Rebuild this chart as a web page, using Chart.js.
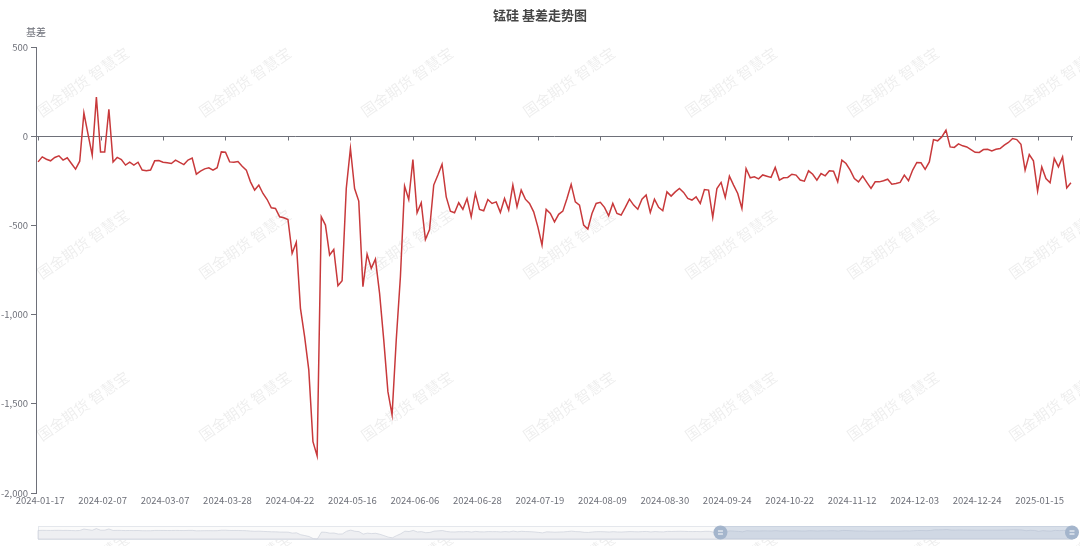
<!DOCTYPE html>
<html>
<head>
<meta charset="utf-8">
<title>锰硅 基差走势图</title>
<script src="https://cdn.jsdelivr.net/npm/chart.js@4/dist/chart.umd.min.js"></script>
<style>
  html, body { margin: 0; padding: 0; background: #fff; }
  #wrap { width: 1080px; height: 546px; }
</style>
</head>
<body>
<div id="wrap"><canvas id="basisChart" width="1080" height="546"></canvas></div>
<script>
// Textos do gráfico
const chartTitle = "锰硅 基差走势图";
const yAxisName = "基差";
const watermarkText = "国金期货 智慧宝";

// Dias de negociação: começa em 2024-01-17, pula fins de semana e feriados da bolsa
const startDate = "2024-01-17";
const closedDays = [
  "2024-02-09", "2024-02-12", "2024-02-13", "2024-02-14", "2024-02-15", "2024-02-16",
  "2024-04-04", "2024-04-05", "2024-05-01", "2024-05-02", "2024-05-03", "2024-06-10",
  "2024-09-16", "2024-09-17", "2024-10-01", "2024-10-02", "2024-10-03", "2024-10-04",
  "2024-10-07", "2025-01-01"
];

// Base (基差)
const basis = [
  -144, -116, -129, -138, -119, -110, -134, -121, -153, -185,
  -140, 130, 10, -106, 220, -88, -88, 151, -144, -119,
  -131, -162, -146, -162, -146, -190, -194, -190, -138, -136,
  -146, -149, -153, -134, -147, -159, -134, -123, -213, -196,
  -183, -177, -190, -177, -88, -90, -144, -146, -142, -168,
  -190, -256, -302, -274, -321, -355, -401, -405, -452, -457,
  -467, -657, -595, -965, -1124, -1310, -1712, -1792, -452, -498,
  -666, -635, -838, -810, -293, -69, -293, -364, -844, -661,
  -741, -689, -881, -1142, -1432, -1562, -1142, -788, -280, -355,
  -131, -429, -373, -579, -523, -274, -218, -157, -340, -420,
  -429, -373, -410, -349, -452, -321, -410, -418, -355, -377,
  -368, -427, -349, -414, -274, -396, -302, -353, -377, -424,
  -508, -610, -410, -433, -480, -438, -420, -349, -270, -368,
  -386, -498, -521, -433, -377, -371, -399, -446, -377, -433,
  -442, -399, -353, -386, -409, -353, -330, -427, -353, -399,
  -418, -312, -336, -312, -293, -315, -349, -358, -340, -377,
  -299, -302, -455, -293, -259, -343, -224, -274, -321, -405,
  -181, -233, -228, -239, -217, -224, -231, -175, -246, -233,
  -231, -213, -218, -246, -252, -194, -213, -246, -209, -222,
  -194, -196, -256, -134, -153, -190, -237, -256, -224, -259,
  -293, -256, -256, -250, -241, -269, -265, -259, -218, -250,
  -190, -147, -149, -186, -144, -19, -26, -4, 34, -60,
  -63, -43, -54, -60, -75, -90, -91, -75, -73, -82,
  -73, -69, -50, -35, -13, -19, -45, -190, -103, -138,
  -308, -172, -237, -261, -125, -172, -116, -290, -261
];

// Rótulos do eixo y e intervalo dos rótulos do eixo x
const yTicks = [500, 0, -500, -1000, -1500, -2000];
const labelEvery = 15;
// Janela do controle de zoom (em %)
const zoomRange = [66, 100];

function tradingDays(start, count, closed) {
  const out = [];
  const d = new Date(start + "T00:00:00Z");
  while (out.length < count) {
    const wd = d.getUTCDay();
    const s = d.toISOString().slice(0, 10);
    if (wd !== 0 && wd !== 6 && !closed.includes(s)) out.push(s);
    d.setUTCDate(d.getUTCDate() + 1);
  }
  return out;
}

const dates = tradingDays(startDate, basis.length, closedDays);

const fontFamily = '"Noto Sans CJK SC", "Noto Sans", sans-serif';
Chart.defaults.font.family = fontFamily;

// Linha do eixo x passando pelo zero, com marcas
const zeroAxis = {
  id: "zeroAxis",
  beforeDatasetsDraw(chart) {
    const { ctx, chartArea, scales } = chart;
    const y0 = Math.round(scales.y.getPixelForValue(0)) + 0.5;
    ctx.save();
    ctx.strokeStyle = "#6e7079";
    ctx.lineWidth = 1;
    ctx.beginPath();
    ctx.moveTo(chartArea.left, y0);
    ctx.lineTo(chartArea.right, y0);
    for (let i = 0; i < dates.length; i++) {
      if (i % labelEvery === 0 || i === dates.length - 1) {
        const px = Math.round(scales.x.getPixelForValue(i)) + 0.5;
        ctx.moveTo(px, y0);
        ctx.lineTo(px, y0 + 4);
      }
    }
    ctx.stroke();
    ctx.restore();
  }
};

// Fundo, marca d'água, título, nome do eixo e controle de zoom
const decorations = {
  id: "decorations",
  beforeDraw(chart) {
    const ctx = chart.ctx;
    ctx.save();
    ctx.fillStyle = "#fff";
    ctx.fillRect(0, 0, chart.width, chart.height);
    ctx.fillStyle = "rgba(0,0,0,0.07)";
    ctx.font = "15px " + fontFamily;
    ctx.textAlign = "center";
    ctx.textBaseline = "middle";
    for (let gx = 83; gx < 1140; gx += 162) {
      for (let gy = 82; gy < 620; gy += 162) {
        ctx.save();
        ctx.translate(gx, gy);
        ctx.rotate(-35 * Math.PI / 180);
        ctx.fillText(watermarkText, 0, 0);
        ctx.restore();
      }
    }
    ctx.restore();
  },
  afterDraw(chart) {
    const { ctx, chartArea } = chart;
    ctx.save();
    ctx.textAlign = "center";
    ctx.textBaseline = "middle";
    ctx.fillStyle = "#464646";
    ctx.font = "bold 13px " + fontFamily;
    ctx.fillText(chartTitle, chart.width / 2, 15);
    ctx.fillStyle = "#6e7079";
    ctx.font = "10px " + fontFamily;
    ctx.fillText(yAxisName, chartArea.left, 32);

    // controle de zoom
    const left = chartArea.left + 2, right = chartArea.right - 1;
    const top = 526, h = 13;
    ctx.fillStyle = "#fbfbfb";
    ctx.fillRect(left, top, right - left, h);
    ctx.strokeStyle = "#e4e7ec";
    ctx.lineWidth = 1;
    ctx.strokeRect(left + 0.5, top + 0.5, right - left, h);

    const lo = Math.min(...basis), hi = Math.max(...basis);
    ctx.beginPath();
    ctx.moveTo(left, top + h);
    basis.forEach((v, i) => {
      const px = left + (right - left) * i / (basis.length - 1);
      const py = top + h - (v - lo) / (hi - lo) * h * 0.8;
      ctx.lineTo(px, py);
    });
    ctx.lineTo(right, top + h);
    ctx.closePath();
    ctx.fillStyle = "rgba(225,228,234,0.5)";
    ctx.fill();
    ctx.strokeStyle = "rgba(205,210,220,0.7)";
    ctx.stroke();

    const x1 = left + (right - left) * zoomRange[0] / 100;
    const x2 = left + (right - left) * zoomRange[1] / 100;
    ctx.fillStyle = "rgba(160,178,206,0.38)";
    ctx.fillRect(x1, top, x2 - x1, h);

    [x1, x2].forEach(hx => {
      ctx.beginPath();
      ctx.arc(hx, top + h / 2, 7, 0, Math.PI * 2);
      ctx.fillStyle = "#a4b5cc";
      ctx.fill();
      ctx.strokeStyle = "#fff";
      ctx.lineWidth = 1;
      ctx.beginPath();
      ctx.moveTo(hx - 2.5, top + h / 2 - 1.5);
      ctx.lineTo(hx + 2.5, top + h / 2 - 1.5);
      ctx.moveTo(hx - 2.5, top + h / 2 + 1.5);
      ctx.lineTo(hx + 2.5, top + h / 2 + 1.5);
      ctx.stroke();
    });
    ctx.restore();
  }
};

const ctx = document.getElementById("basisChart").getContext("2d");
const myChart = new Chart(ctx, {
  type: "line",
  data: {
    labels: dates,
    datasets: [
      {
        label: yAxisName,
        data: basis,
        borderColor: "#c8393b",
        borderWidth: 1.5,
        pointRadius: 0,
        tension: 0,
        fill: false
      }
    ]
  },
  options: {
    responsive: false,
    animation: false,
    layout: { padding: { top: 47, right: 7, left: 0, bottom: 0 } },
    plugins: {
      legend: { display: false },
      tooltip: { enabled: false },
      title: { display: false }
    },
    scales: {
      x: {
        type: "category",
        offset: true,
        grid: { display: false, drawTicks: false },
        border: { display: false },
        ticks: {
          autoSkip: false,
          maxRotation: 0,
          minRotation: 0,
          padding: 2,
          labelOffset: 2,
          color: "#6e7079",
          font: { size: 9.5 },
          callback: function (value, index) {
            return index % labelEvery === 0 ? this.getLabelForValue(value) : null;
          }
        },
        afterFit: (scale) => { scale.height = 53; }
      },
      y: {
        min: -2000,
        max: 500,
        afterBuildTicks: (scale) => { scale.ticks = yTicks.map(v => ({ value: v })); },
        grid: { display: true, drawOnChartArea: false, drawTicks: true, tickLength: 5, color: "#6e7079" },
        border: { display: true, color: "#6e7079" },
        ticks: {
          padding: 3,
          color: "#6e7079",
          font: { size: 9.5 },
          callback: (v) => v.toLocaleString("en-US")
        },
        afterFit: (scale) => { scale.width = 36; }
      }
    }
  },
  plugins: [zeroAxis, decorations]
});
</script>
</body>
</html>
